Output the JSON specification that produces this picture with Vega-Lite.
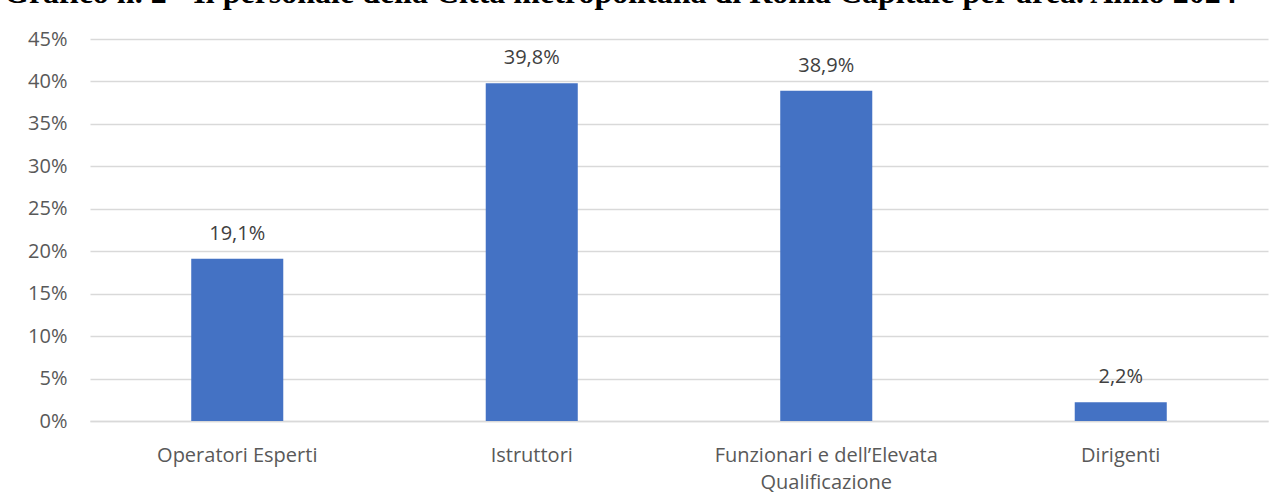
{
  "$schema": "https://vega.github.io/schema/vega-lite/v6.json",
  "width": 1178,
  "height": 382,
  "autosize": {"type": "none"},
  "padding": {"left": 90, "top": 39, "right": 16, "bottom": 81},
  "background": "white",
  "title": {
    "text": "Grafico n. 2 - Il personale della Città metropolitana di Roma Capitale per area. Anno 2024",
    "font": "Liberation Serif",
    "fontWeight": "bold",
    "fontSize": 32,
    "color": "#000000",
    "anchor": "start",
    "frame": "group",
    "baseline": "alphabetic",
    "dx": -86,
    "offset": -6,
    "limit": 0
  },
  "config": {
    "locale": {"number": {"decimal": ",", "thousands": ".", "grouping": [3], "currency": ["€", ""]}},
    "view": {"stroke": null},
    "font": "Open Sans"
  },
  "data": {
    "values": [
      {"area": "Operatori Esperti", "quota": 0.191},
      {"area": "Istruttori", "quota": 0.398},
      {"area": "Funzionari e dell’Elevata Qualificazione", "quota": 0.389},
      {"area": "Dirigenti", "quota": 0.022}
    ]
  },
  "encoding": {
    "x": {
      "field": "area",
      "type": "nominal",
      "sort": null,
      "scale": {"paddingInner": 0.6875, "paddingOuter": 0.34375},
      "axis": {
        "title": null,
        "labelAngle": 0,
        "labelFont": "Open Sans",
        "labelFontSize": 20,
        "labelColor": "#595959",
        "labelPadding": 24,
        "labelLineHeight": 27,
        "labelLimit": 400,
        "labelExpr": "datum.value == 'Funzionari e dell’Elevata Qualificazione' ? ['Funzionari e dell’Elevata', 'Qualificazione'] : datum.value",
        "domain": true,
        "domainColor": "#d9d9d9",
        "domainWidth": 1.5,
        "ticks": false,
        "grid": false
      }
    },
    "y": {
      "field": "quota",
      "type": "quantitative",
      "scale": {"domain": [0, 0.45], "nice": false},
      "axis": {
        "title": null,
        "format": ".0%",
        "values": [0, 0.05, 0.1, 0.15, 0.2, 0.25, 0.3, 0.35, 0.4, 0.45],
        "labelFont": "Open Sans",
        "labelFontSize": 20,
        "labelColor": "#595959",
        "labelPadding": 23,
        "domain": false,
        "ticks": false,
        "grid": true,
        "gridColor": "#d9d9d9",
        "gridWidth": 1.5
      }
    }
  },
  "layer": [
    {"mark": {"type": "bar", "color": "#4472C4"}},
    {
      "mark": {"type": "text", "baseline": "alphabetic", "dy": -19, "fontSize": 20, "font": "Open Sans", "color": "#404040"},
      "encoding": {"text": {"field": "quota", "type": "quantitative", "format": ".1%"}}
    }
  ]
}
